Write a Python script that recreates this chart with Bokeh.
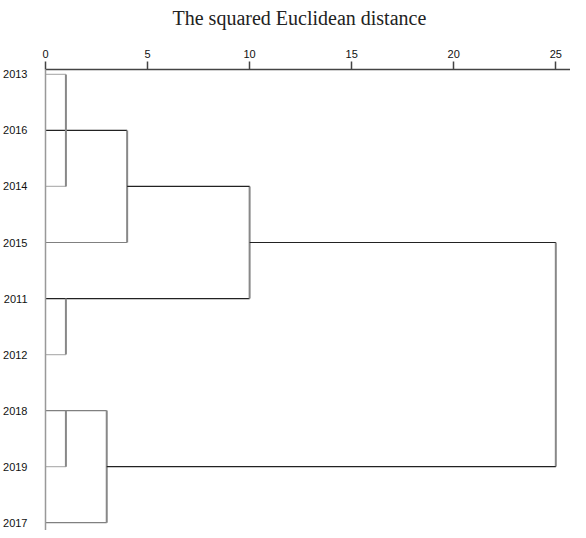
from bokeh.plotting import figure
from bokeh.models import Range1d, FixedTicker, ColumnDataSource
from bokeh.embed import file_html
from bokeh.resources import INLINE

# ---- data ----
leaves = ["2013", "2016", "2014", "2015", "2011", "2012", "2018", "2019", "2017"]
x_ticks = [0, 5, 10, 15, 20, 25]

# leaf stubs: each leaf and the distance at which its line ends
stub_leaf = ["2013", "2016", "2014", "2015", "2011", "2012", "2018", "2019", "2017"]
stub_dist = [1, 4, 1, 4, 10, 1, 3, 1, 3]

# cluster horizontal links: row, start distance, end distance
link_row = ["2014", "2015", "2019"]
link_from = [4, 10, 3]
link_to = [10, 25, 25]

# vertical joins: distance, top row, bottom row
v_dist = [1, 4, 10, 1, 25, 1, 3]
v_top = ["2013", "2016", "2014", "2011", "2015", "2018", "2018"]
v_bot = ["2014", "2015", "2011", "2012", "2019", "2019", "2017"]

dark_stubs = ["2016", "2011"]

idx = {k: i for i, k in enumerate(leaves)}

p = figure(width=570, height=530, output_backend="svg", toolbar_location=None,
           x_range=Range1d(0, 25.72), y_range=Range1d(8.140, -0.0877),
           x_axis_location="above",
           min_border_left=37, min_border_right=0, min_border_bottom=0, min_border_top=0)
p.title.text = "The squared Euclidean distance"
p.title.text_font = "Liberation Serif"
p.title.text_font_size = "20px"
p.title.text_font_style = "normal"
p.title.text_color = "#222222"
p.title.align = "left"
p.title.offset = 127
p.title.standoff = 9

p.xgrid.visible = False
p.ygrid.visible = False
p.outline_line_color = None
p.background_fill_color = "white"
p.border_fill_color = "white"

# top axis
xa = p.xaxis[0]
xa.ticker = FixedTicker(ticks=x_ticks)
xa.major_tick_out = 8
xa.major_tick_in = 0
xa.minor_tick_line_color = None
xa.axis_line_color = "#444444"
xa.axis_line_width = 1.5
xa.major_tick_line_color = "#444444"
xa.major_tick_line_width = 1.5
xa.major_label_standoff = 4
xa.major_label_text_font = "Liberation Sans"
xa.major_label_text_font_size = "11px"
xa.major_label_text_color = "#111111"
xa.axis_label = " "
xa.axis_label_text_font_size = "9px"
xa.axis_label_standoff = 0

# left axis
ya = p.yaxis[0]
ya.ticker = FixedTicker(ticks=list(range(len(leaves))))
ya.major_label_overrides = {i: k for i, k in enumerate(leaves)}
ya.major_tick_line_color = None
ya.minor_tick_line_color = None
ya.axis_line_color = "#999999"
ya.axis_line_width = 1.5
ya.major_label_standoff = 12
ya.major_label_text_font = "Liberation Sans"
ya.major_label_text_font_size = "11px"
ya.major_label_text_color = "#111111"

# leaf stubs
groups = {"light": ([], [], []), "medium": ([], [], []), "dark": ([], [], [])}
for leaf, d in zip(stub_leaf, stub_dist):
    if leaf in dark_stubs:
        g = "dark"
    elif d == 1:
        g = "light"
    else:
        g = "medium"
    groups[g][0].append(0)
    groups[g][1].append(d)
    groups[g][2].append(idx[leaf])
colors = {"light": "#b5b5b5", "medium": "#808080", "dark": "#222222"}
for g, (x0, x1, y) in groups.items():
    if x0:
        p.segment(x0=x0, x1=x1, y0=y, y1=y, line_color=colors[g], line_width=1.2)

# vertical joins
vsrc = ColumnDataSource(dict(x=v_dist, y0=[idx[k] for k in v_top], y1=[idx[k] for k in v_bot]))
p.segment(x0="x", x1="x", y0="y0", y1="y1", source=vsrc, line_color="#888888", line_width=2)

# cluster links
lsrc = ColumnDataSource(dict(x0=link_from, x1=link_to, y=[idx[k] for k in link_row]))
p.segment(x0="x0", x1="x1", y0="y", y1="y", source=lsrc, line_color="#222222", line_width=1.2)

open("out.html", "w").write(file_html(p, INLINE))
